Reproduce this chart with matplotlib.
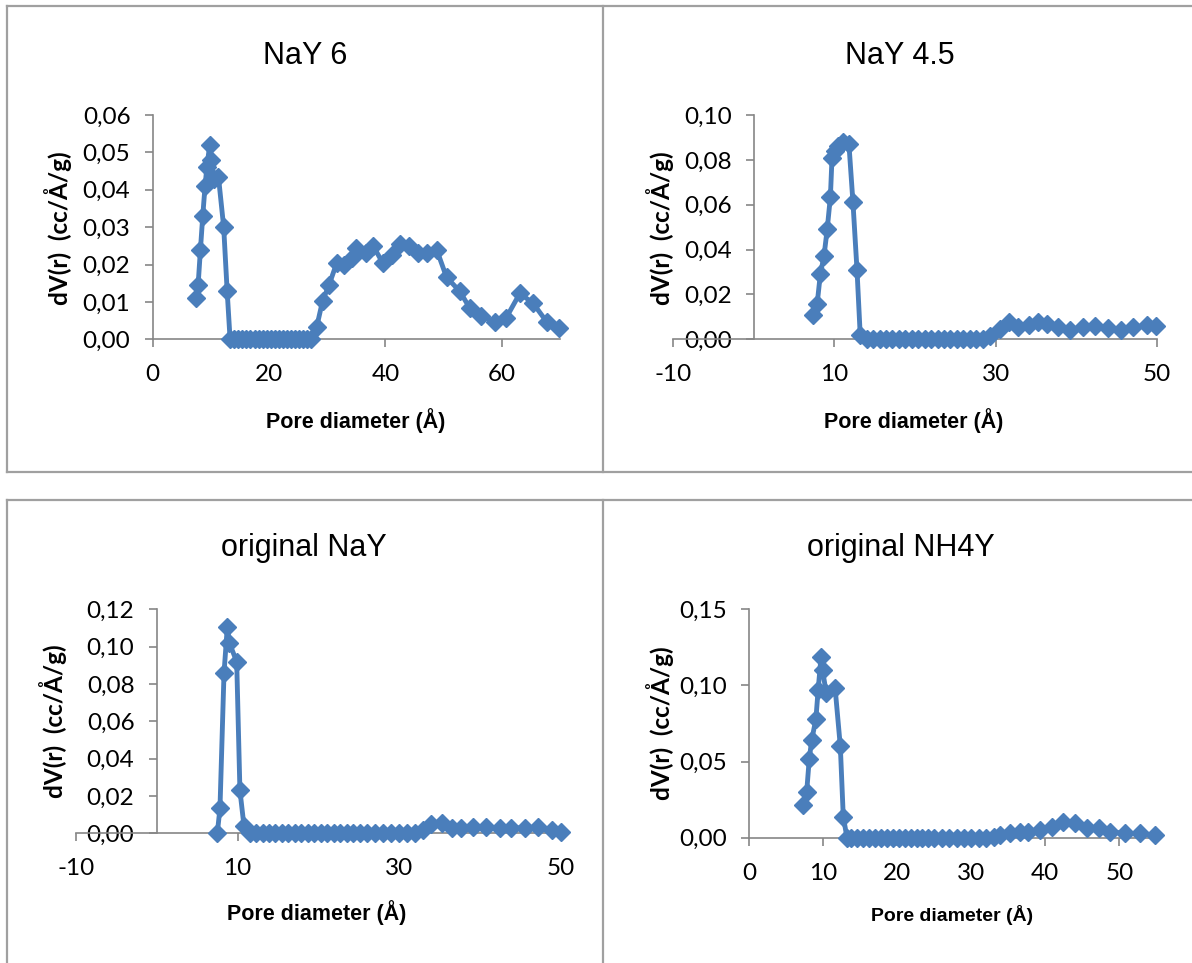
import matplotlib
matplotlib.use("Agg")
import matplotlib.pyplot as plt
from matplotlib.lines import Line2D
from matplotlib.ticker import FuncFormatter

matplotlib.rcParams['axes.unicode_minus'] = False

# NaY 6
nay6_x = [7.4, 7.8, 8.2, 8.6, 9.0, 9.3, 9.8, 10.1, 10.5, 11.3, 12.2, 12.8,
          13.3, 14.0, 14.7, 15.4, 16.1, 16.8, 17.5, 18.2, 18.9, 19.6, 20.3,
          21.0, 21.7, 22.4, 23.1, 23.8, 24.5, 25.2, 25.9, 26.6, 27.2,
          28.2, 29.2, 30.3, 31.6, 32.9, 34.2, 35.0, 36.6, 37.9, 39.5, 41.1,
          42.5, 44.1, 45.6, 47.2, 48.8, 50.5, 52.8, 54.5, 56.5, 58.8, 60.7,
          63.1, 65.4, 67.7, 69.8]
nay6_y = [0.011, 0.0144, 0.0239, 0.033, 0.041, 0.046, 0.052, 0.048, 0.043,
          0.0435, 0.030, 0.0128,
          0.0, 0.0, 0.0, 0.0, 0.0, 0.0, 0.0, 0.0, 0.0, 0.0, 0.0,
          0.0, 0.0, 0.0, 0.0, 0.0, 0.0, 0.0, 0.0, 0.0, 0.0,
          0.0034, 0.0103, 0.0145, 0.0203, 0.020, 0.0217, 0.0244, 0.023,
          0.025, 0.0205, 0.0226, 0.0255, 0.025, 0.0232, 0.023, 0.024, 0.0166,
          0.0128, 0.0083, 0.0062, 0.0047, 0.0056, 0.0123, 0.0096, 0.0047,
          0.003]

# NaY 4.5
nay45_x = [7.4, 7.85, 8.25, 8.7, 9.1, 9.5, 9.7, 10.1, 10.5, 11.1, 11.8, 12.3,
           12.8, 13.2, 14.0, 14.8, 15.6, 16.4, 17.2, 18.0, 18.8, 19.6, 20.4,
           21.2, 22.0, 22.8, 23.6, 24.4, 25.2, 26.0, 26.8, 27.6, 28.4,
           29.3, 30.6, 31.7, 32.8, 34.1, 35.3, 36.4, 37.8, 39.2, 40.8, 42.4,
           44.0, 45.6, 47.1, 48.8, 49.9]
nay45_y = [0.011, 0.0156, 0.029, 0.037, 0.049, 0.0636, 0.081, 0.084, 0.086,
           0.088, 0.087, 0.061, 0.031, 0.002,
           0.0, 0.0, 0.0, 0.0, 0.0, 0.0, 0.0, 0.0, 0.0,
           0.0, 0.0, 0.0, 0.0, 0.0, 0.0, 0.0, 0.0, 0.0, 0.0,
           0.0015, 0.0045, 0.0075, 0.0056, 0.0064, 0.0075, 0.0066, 0.0056,
           0.0042, 0.0053, 0.006, 0.0049, 0.0042, 0.0053, 0.0062, 0.006]

# original NaY
onay_x = [7.5, 7.83, 8.33, 8.74, 8.99, 9.9, 10.3, 10.8, 11.5, 12.3, 13.1,
          13.9, 14.7, 15.5, 16.3, 17.1, 17.9, 18.7, 19.5, 20.3, 21.1, 21.9,
          22.7, 23.5, 24.3, 25.1, 26.0, 27.0, 28.0, 29.0, 30.0, 31.0, 32.0,
          33.0, 34.0, 35.3, 36.5, 37.7, 39.2, 40.8, 42.5, 43.9, 45.6, 47.2,
          48.9, 50.0]
onay_y = [0.0, 0.0134, 0.0857, 0.1107, 0.102, 0.092, 0.023, 0.004, 0.0, 0.0,
          0.0, 0.0, 0.0, 0.0, 0.0, 0.0, 0.0, 0.0, 0.0, 0.0, 0.0, 0.0,
          0.0, 0.0, 0.0, 0.0, 0.0, 0.0, 0.0, 0.0, 0.0, 0.0, 0.0,
          0.0018, 0.005, 0.0055, 0.0027, 0.0027, 0.0033, 0.0033, 0.0027,
          0.0027, 0.003, 0.0033, 0.0018, 0.0005]

# original NH4Y
onh4_x = [7.3, 7.75, 8.1, 8.43, 9.0, 9.3, 9.7, 9.9, 10.4, 11.6, 12.3, 12.7,
          13.2, 13.8, 14.6, 15.4, 16.2, 17.0, 17.8, 18.6, 19.4, 20.2, 21.0,
          21.8, 22.6, 23.4, 24.2, 25.0, 26.0, 27.0, 28.0, 29.0, 30.0, 31.0,
          32.0, 33.0, 33.9, 35.2, 36.6, 37.7, 39.3, 40.9, 42.4, 44.0, 45.6,
          47.2, 48.7, 50.8, 52.8, 54.8]
onh4_y = [0.0214, 0.0298, 0.0516, 0.064, 0.078, 0.097, 0.119, 0.110, 0.095,
          0.098, 0.060, 0.0138,
          0.0, 0.0, 0.0, 0.0, 0.0, 0.0, 0.0, 0.0, 0.0, 0.0, 0.0,
          0.0, 0.0, 0.0, 0.0, 0.0, 0.0, 0.0, 0.0, 0.0, 0.0, 0.0,
          0.0, 0.0005, 0.0017, 0.0028, 0.0035, 0.004, 0.005, 0.0072, 0.0106,
          0.0098, 0.0061, 0.0061, 0.004, 0.0028, 0.0028, 0.0018]

titles = ["NaY 6", "NaY 4.5", "original NaY", "original NH4Y"]
xlabel = "Pore diameter (Å)"
ylabel = "dV(r)  (cc/Å/g)"

W, H = 1192, 963
line_color = "#4a7ebb"
axis_color = "#868686"
frame_color = "#a0a0a0"


def fx(x):
    return x / W


def fy(y):
    return 1 - y / H


def comma_fmt(ndec):
    return FuncFormatter(lambda v, p: ("%.*f" % (ndec, v)).replace(".", ","))


def make_panel(fig, box, xs, ys, xlim, xticks, ylim, ystep, yaxis_at_zero):
    # box is (left, top, right, bottom) in pixels
    left, top, right, bottom = box
    ax = fig.add_axes([fx(left), fy(bottom), fx(right - left),
                       (bottom - top) / H])
    ax.plot(xs, ys, color=line_color, lw=3.5, marker="D", ms=9,
            mec=line_color, mew=1, clip_on=False, zorder=5)
    ax.set_xlim(*xlim)
    ax.set_ylim(*ylim)
    ax.set_xticks(xticks)
    n = int(round((ylim[1] - ylim[0]) / ystep))
    ax.set_yticks([ylim[0] + i * ystep for i in range(n + 1)])
    ax.yaxis.set_major_formatter(comma_fmt(2))
    for s in ["top", "right"]:
        ax.spines[s].set_visible(False)
    for s in ["left", "bottom"]:
        ax.spines[s].set_color(axis_color)
        ax.spines[s].set_linewidth(1.2)
    if yaxis_at_zero:
        ax.spines["left"].set_position(("data", 0))
    ax.tick_params(axis="both", direction="out", length=6, width=1.2,
                   color=axis_color, labelsize=17.5)
    ax.tick_params(axis="y", pad=10)
    ax.tick_params(axis="x", pad=12)
    for lab in ax.get_xticklabels() + ax.get_yticklabels():
        lab.set_fontfamily("Lato")
    return ax


def frame_line(fig, x0, y0, x1, y1):
    fig.add_artist(Line2D([fx(x0), fx(x1)], [fy(y0), fy(y1)],
                          color=frame_color, lw=1.6,
                          transform=fig.transFigure))


fig = plt.figure(figsize=(W / 100, H / 100), dpi=100)

# panel frames
frame_line(fig, 7, 6, W, 6)
frame_line(fig, 7, 472, W, 472)
frame_line(fig, 7, 6, 7, 472)
frame_line(fig, 603, 6, 603, 472)
frame_line(fig, 7, 500, W, 500)
frame_line(fig, 7, 500, 7, H)
frame_line(fig, 603, 500, 603, H)

make_panel(fig, (152.7, 115, 560, 339.3), nay6_x, nay6_y,
           (0, 70), [0, 20, 40, 60], (0, 0.06), 0.01, False)
make_panel(fig, (673.3, 115, 1156.7, 339.3), nay45_x, nay45_y,
           (-10, 50), [-10, 10, 30, 50], (0, 0.10), 0.02, True)
make_panel(fig, (75.9, 609.3, 560.7, 833.3), onay_x, onay_y,
           (-10, 50), [-10, 10, 30, 50], (0, 0.12), 0.02, True)
make_panel(fig, (749.3, 609.3, 1156.3, 837.7), onh4_x, onh4_y,
           (0, 55), [0, 10, 20, 30, 40, 50], (0, 0.15), 0.05, False)

# titles
title_pos = [(305, 56), (900, 56), (304, 548), (901, 548)]
for t, (x, y) in zip(titles, title_pos):
    fig.text(fx(x), fy(y), t, ha="center", va="center", fontsize=22,
             family="Liberation Sans")

# axis labels
xlab_pos = [(356, 421, 15.5), (914, 421, 15.5), (317, 913, 15.5),
            (952, 915, 14)]
for x, y, s in xlab_pos:
    fig.text(fx(x), fy(y), xlabel, ha="center", va="center", fontsize=s,
             family="Liberation Sans", fontweight="bold")

ylab_pos = [(58, 228), (660, 228), (53, 721), (660, 723)]
for x, y in ylab_pos:
    fig.text(fx(x), fy(y), ylabel, ha="center", va="center", fontsize=17.5,
             family="Lato", fontweight="bold", rotation=90)

fig.savefig("out.png", dpi=100)
